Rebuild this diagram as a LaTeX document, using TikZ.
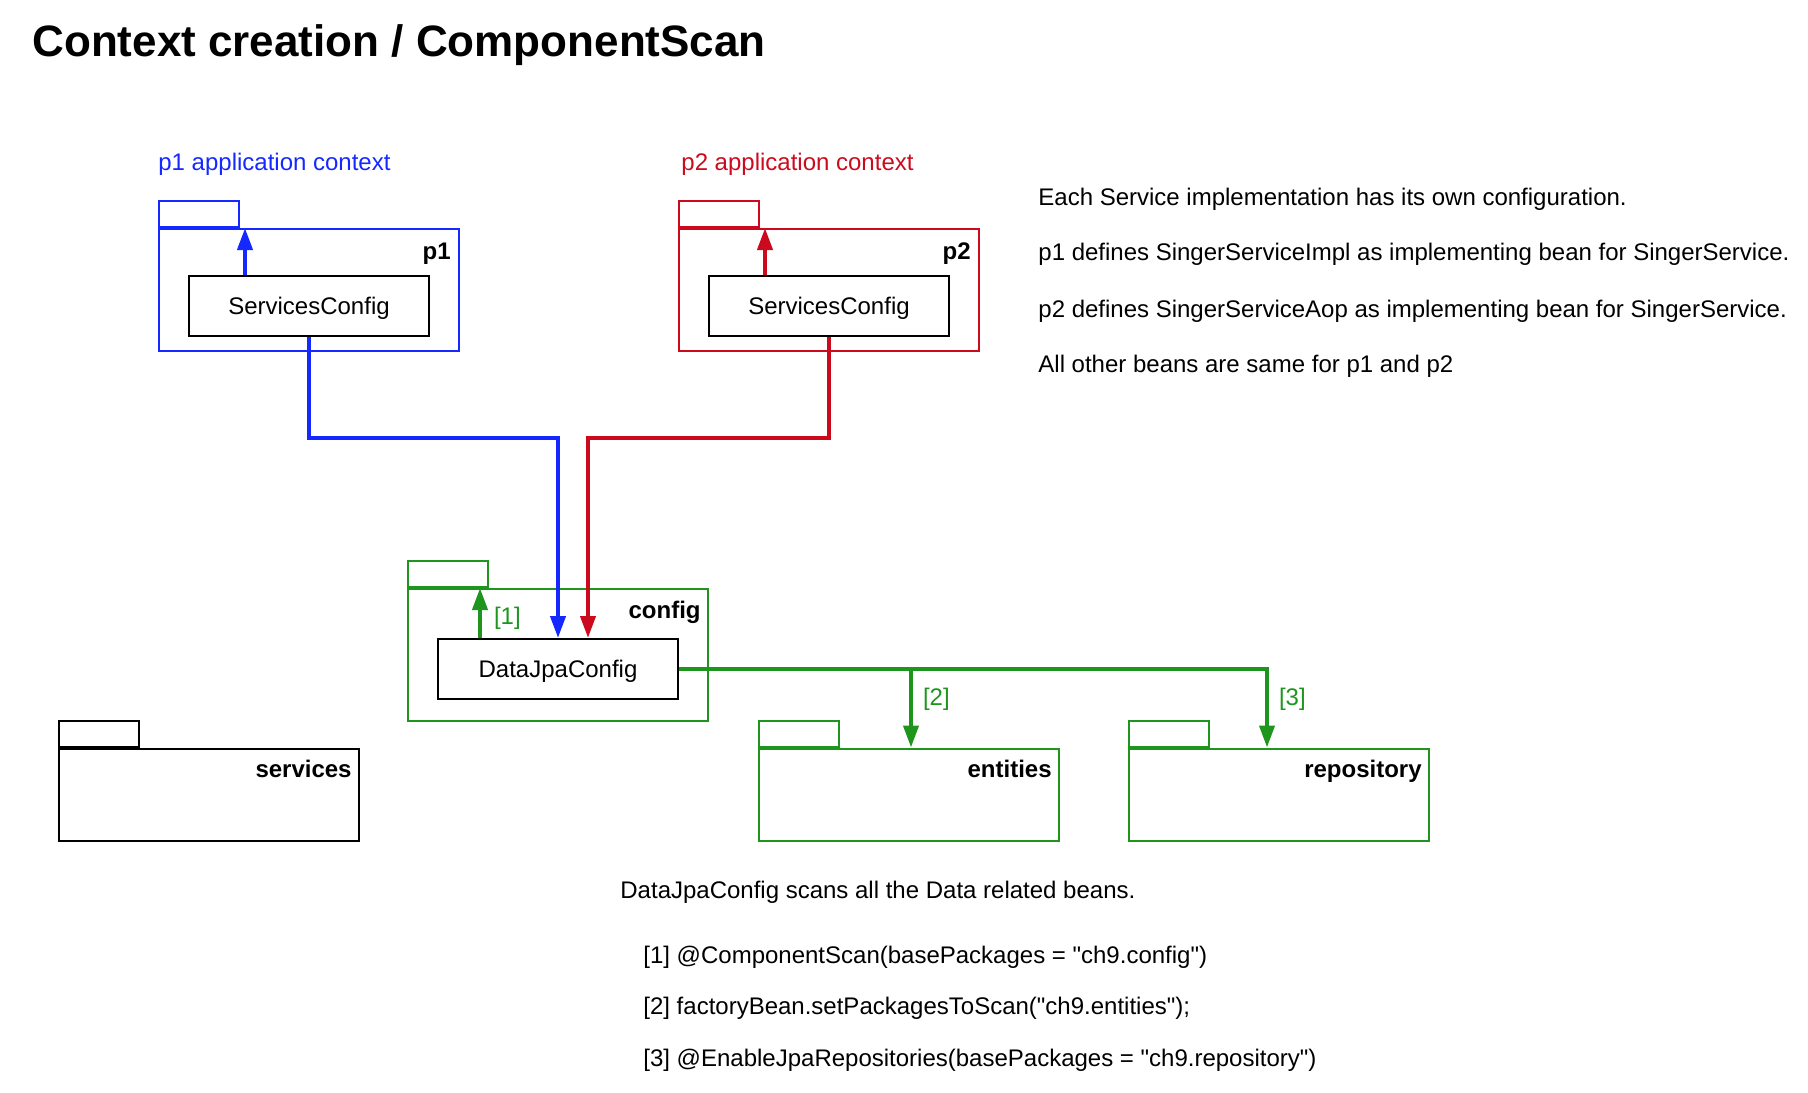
\documentclass[tikz,border=0pt]{standalone}
\usepackage{fontspec}
\setmainfont{Liberation Sans}[Ligatures=TeXOff]
\usetikzlibrary{arrows.meta,positioning}
\definecolor{ctxblue}{HTML}{1428FF}
\definecolor{ctxred}{HTML}{CC0A1E}
\definecolor{scangreen}{HTML}{1E961E}
\tikzset{
    cs body/.style={draw, line width=1pt, minimum width=150pt, inner sep=0pt},
    cs tab/.style={draw, line width=1pt, minimum width=40pt,
                   minimum height=13pt, inner sep=0pt, anchor=south west},
    cs name/.style={font=\fontsize{12pt}{14.4pt}\selectfont\bfseries,
                    anchor=base east, inner sep=0pt},
    cs class/.style={draw=black, line width=1pt, minimum width=120pt,
                     minimum height=30pt, inner sep=0pt, text depth=0pt},
    cs wire/.style={line width=2pt, -{Triangle[length=11pt, width=7.5pt]}},
    cs lbl/.style={text=scangreen, inner sep=0pt},
    cs note/.style={anchor=base west, inner sep=0pt},
}

\begin{document}
\begin{tikzpicture}[x=0.5pt, y=-0.5pt, font=\fontsize{12pt}{14.4pt}\selectfont]
    \useasboundingbox (0,0) rectangle (1808,1092);
    % Title
    \node[cs note, font=\fontsize{22pt}{26pt}\selectfont\bfseries]
        (title) at (32,56) {Context creation / ComponentScan};
    % p1 application context
    \node[cs note, text=ctxblue] (ctx1) at (158,170) {p1 application context};
    \node[cs body, draw=ctxblue, minimum height=61pt] (p1) at (309,290) {};
    \node[cs tab, draw=ctxblue] (p1tab) at (p1.north west) {};
    \node[cs name] at ([xshift=-4.5pt, yshift=-15.5pt]p1.north east) {p1};
    \node[cs class] (sc1) at (309,306) {ServicesConfig};
    \draw[cs wire, ctxblue] ([xshift=-32pt]sc1.north) -- ([xshift=-32pt]p1.north);
    % p2 application context
    \node[cs note, text=ctxred] (ctx2) at (681,170) {p2 application context};
    \node[cs body, draw=ctxred, minimum height=61pt] (p2) at (829,290) {};
    \node[cs tab, draw=ctxred] (p2tab) at (p2.north west) {};
    \node[cs name] at ([xshift=-4.5pt, yshift=-15.5pt]p2.north east) {p2};
    \node[cs class] (sc2) at (829,306) {ServicesConfig};
    \draw[cs wire, ctxred] ([xshift=-32pt]sc2.north) -- ([xshift=-32pt]p2.north);
    % Notes (right)
    \node[cs note] (n1) at (1038,205) {Each Service implementation has its own configuration.};
    \node[cs note] (n2) at (1038,260) {p1 defines SingerServiceImpl as implementing bean for SingerService.};
    \node[cs note] (n3) at (1038,317) {p2 defines SingerServiceAop as implementing bean for SingerService.};
    \node[cs note] (n4) at (1038,372) {All other beans are same for p1 and p2};
    % config package
    \node[cs body, draw=scangreen, minimum height=66pt] (cfg) at (558,655) {};
    \node[cs tab, draw=scangreen] (cfgtab) at (cfg.north west) {};
    \node[cs name] at ([xshift=-4pt, yshift=-15pt]cfg.north east) {config};
    \node[cs class] (djc) at (558,669) {DataJpaConfig};
    \draw[cs wire, scangreen] ([xshift=-39pt]djc.north) -- ([xshift=-39pt]cfg.north)
        node[cs lbl, pos=0.4, right=6pt] {[1]};
    % Scanned packages (bottom row)
    \node[cs body, draw=black, minimum height=46pt] (svc) at (209,794.5) {};
    \node[cs tab, draw=black] (svctab) at (svc.north west) {};
    \node[cs name] at ([xshift=-4pt, yshift=-15pt]svc.north east) {services};
    \node[cs body, draw=scangreen, minimum height=46pt] (ent) at (909,794.5) {};
    \node[cs tab, draw=scangreen] (enttab) at (ent.north west) {};
    \node[cs name] at ([xshift=-4pt, yshift=-15pt]ent.north east) {entities};
    \node[cs body, draw=scangreen, minimum height=46pt] (repo) at (1279,794.5) {};
    \node[cs tab, draw=scangreen] (repotab) at (repo.north west) {};
    \node[cs name] at ([xshift=-4pt, yshift=-15pt]repo.north east) {repository};
    % Context wiring
    \coordinate (bus) at (0,438);
    \draw[cs wire, ctxblue] (sc1.south) -- (sc1.south |- bus) -| (djc.north);
    \draw[cs wire, ctxred] (sc2.south) -- (sc2.south |- bus) -| ([xshift=15pt]djc.north);
    % Component scans
    \draw[cs wire, scangreen] (djc.east) -| ([xshift=1pt]ent.north)
        node[cs lbl, pos=0.69, right=5pt] {[2]};
    \draw[cs wire, scangreen] (djc.east) -| ([xshift=-6pt]repo.north)
        node[cs lbl, pos=0.69, right=5pt] {[3]};
    % Notes (bottom)
    \node[cs note] (n5) at (620,898) {DataJpaConfig scans all the Data related beans.};
    \node[cs note] (n6) at (643,963) {[1] @ComponentScan(basePackages = "ch9.config")};
    \node[cs note] (n7) at (643,1014) {[2] factoryBean.setPackagesToScan("ch9.entities");};
    \node[cs note] (n8) at (643,1066) {[3] @EnableJpaRepositories(basePackages = "ch9.repository")};
\end{tikzpicture}
\end{document}
